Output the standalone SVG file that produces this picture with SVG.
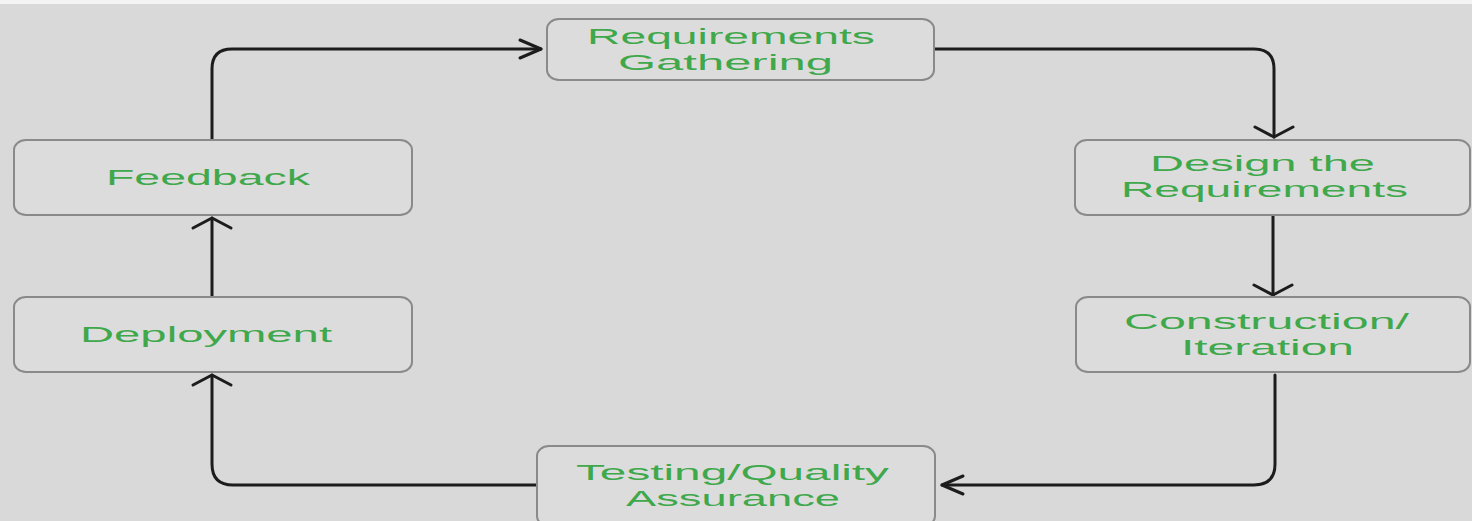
<svg xmlns="http://www.w3.org/2000/svg" width="1472" height="521" viewBox="0 0 1472 521">
  <defs>
    <style>
      .bg { fill: #d9d9d9; }
      .box { fill: #dcdcdc; stroke: #8a8a8a; stroke-width: 2; }
      .label { font-family: "Liberation Sans", Arial, sans-serif; font-size: 22px; fill: #3fa84b; }
      .edge { fill: none; stroke: #1c1c1c; stroke-width: 3; stroke-linecap: round; stroke-linejoin: round; }
    </style>
    <!-- open arrowhead for horizontal runs -->
    <marker id="head-h" markerUnits="userSpaceOnUse" orient="auto" overflow="visible" refX="0" refY="0" markerWidth="1" markerHeight="1">
      <path d="M-21,-9 L0,0 L-21,9" fill="none" stroke="#1c1c1c" stroke-width="3" stroke-linecap="round" stroke-linejoin="round"/>
    </marker>
    <!-- open arrowhead for vertical runs (wider, shallower) -->
    <marker id="head-v" markerUnits="userSpaceOnUse" orient="auto" overflow="visible" refX="0" refY="0" markerWidth="1" markerHeight="1">
      <path d="M-10,-19 L0,0 L-10,19" fill="none" stroke="#1c1c1c" stroke-width="3" stroke-linecap="round" stroke-linejoin="round"/>
    </marker>
  </defs>

  <rect class="bg" x="0" y="0" width="1472" height="521"/>
  <rect x="0" y="0" width="1472" height="4" fill="#f4f4f4"/>

  <g id="connectors">
    <!-- Feedback -> Requirements Gathering -->
    <path class="edge" d="M212,140 V69 Q212,49 232,49 H541" marker-end="url(#head-h)"/>
    <!-- Requirements Gathering -> Design the Requirements -->
    <path class="edge" d="M935,49 H1254 Q1274,49 1274,69 V137" marker-end="url(#head-v)"/>
    <!-- Design the Requirements -> Construction/Iteration -->
    <path class="edge" d="M1273,215 V295" marker-end="url(#head-v)"/>
    <!-- Construction/Iteration -> Testing/Quality Assurance -->
    <path class="edge" d="M1275,375 V464 Q1275,485 1254,485 H942" marker-end="url(#head-h)"/>
    <!-- Testing/Quality Assurance -> Deployment -->
    <path class="edge" d="M537,485 H233 Q212,485 212,464 V375" marker-end="url(#head-v)"/>
    <!-- Deployment -> Feedback -->
    <path class="edge" d="M212,297 V218" marker-end="url(#head-v)"/>
  </g>

  <g id="requirements-gathering">
    <rect class="box" x="547" y="19" width="387" height="61" rx="12" ry="10"/>
    <text class="label" x="587" y="44" textLength="288" lengthAdjust="spacingAndGlyphs">Requirements</text>
    <text class="label" x="618" y="70" textLength="215" lengthAdjust="spacingAndGlyphs">Gathering</text>
  </g>

  <g id="design-requirements">
    <rect class="box" x="1075" y="140" width="395" height="75" rx="12" ry="10"/>
    <text class="label" x="1150" y="171" textLength="225" lengthAdjust="spacingAndGlyphs">Design the</text>
    <text class="label" x="1121" y="197" textLength="287" lengthAdjust="spacingAndGlyphs">Requirements</text>
  </g>

  <g id="construction-iteration">
    <rect class="box" x="1076" y="297" width="394" height="75" rx="12" ry="10"/>
    <text class="label" x="1124" y="329" textLength="285" lengthAdjust="spacingAndGlyphs">Construction/</text>
    <text class="label" x="1181" y="355" textLength="173" lengthAdjust="spacingAndGlyphs">Iteration</text>
  </g>

  <g id="testing-quality-assurance">
    <rect class="box" x="537" y="446" width="398" height="80" rx="12" ry="10"/>
    <text class="label" x="576" y="480" textLength="313" lengthAdjust="spacingAndGlyphs">Testing/Quality</text>
    <text class="label" x="626" y="506" textLength="214" lengthAdjust="spacingAndGlyphs">Assurance</text>
  </g>

  <g id="deployment">
    <rect class="box" x="14" y="297" width="398" height="75" rx="12" ry="10"/>
    <text class="label" x="80" y="342" textLength="252" lengthAdjust="spacingAndGlyphs">Deployment</text>
  </g>

  <g id="feedback">
    <rect class="box" x="14" y="140" width="398" height="75" rx="12" ry="10"/>
    <text class="label" x="106" y="185" textLength="204" lengthAdjust="spacingAndGlyphs">Feedback</text>
  </g>
</svg>
